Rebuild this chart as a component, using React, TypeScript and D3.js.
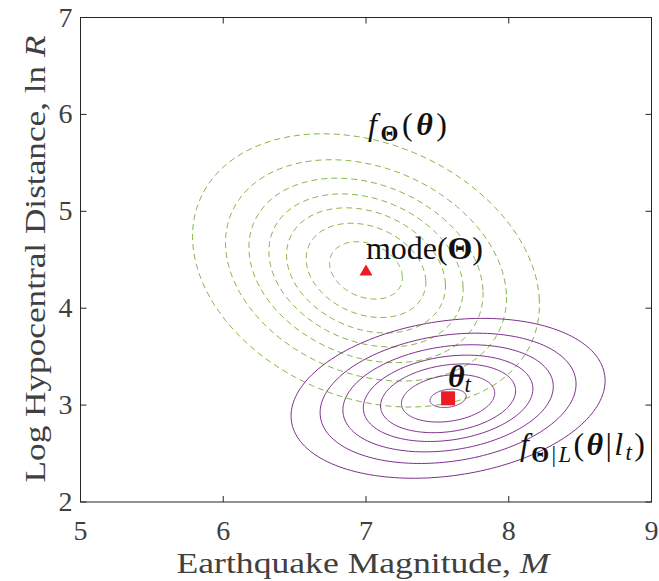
import React from "react";
import * as d3 from "d3";

// ---- data ----
const xDomain = [5, 9];
const yDomain = [2, 7];
const xTicks = [5, 6, 7, 8, 9];
const yTicks = [2, 3, 4, 5, 6, 7];

// prior f_Theta(theta): center, outer-contour extents, correlation, relative contour radii
const priorCenter = [7.0, 4.39];
const priorExtent = [1.215, 1.41];
const priorRho = -0.25;
const priorLevels = [1, 0.81, 0.675, 0.56, 0.458, 0.345, 0.21];

// posterior f_{Theta|L}(theta|l_t)
const postCenter = [7.575, 3.07];
const postExtent = [1.1, 0.825];
const postRho = 0.22;
const postLevels = [1, 0.815, 0.67, 0.54, 0.43, 0.297, 0.115];

const modePoint = [7.0, 4.39];
const truePoint = [7.575, 3.07];

const W = 659, H = 581;
const x = d3.scaleLinear().domain(xDomain).range([80.5, 651.5]);
const y = d3.scaleLinear().domain(yDomain).range([502, 17.5]);

const angles = d3.range(0, 361, 2).map((a) => (a * Math.PI) / 180);

function ellipsePath(c: number[], ext: number[], rho: number, r: number) {
  const s = Math.sqrt(1 - rho * rho);
  const line = d3
    .line<number>()
    .x((t) => x(c[0] + r * ext[0] * Math.cos(t)))
    .y((t) => y(c[1] + r * ext[1] * (rho * Math.cos(t) + s * Math.sin(t))))
    .curve(d3.curveCardinalClosed);
  return line(angles.slice(0, -1)) || "";
}

const FONT = "'Liberation Serif', 'Times New Roman', serif";
const AX = "#262626";
const TICKC = "#404040";
const GREEN = "#77AC30";
const PURPLE = "#7E2F8E";
const RED = "#ED1C24";

export default function App() {
  const x0 = x(xDomain[0]), x1 = x(xDomain[1]);
  const y0 = y(yDomain[0]), y1 = y(yDomain[1]);
  const tl = 6;
  const [mx, my] = [x(modePoint[0]), y(modePoint[1])];
  const [tx, ty] = [x(truePoint[0]), y(truePoint[1])];
  return (
    <svg width={W} height={H} style={{ position: "absolute", left: 0, top: 0, background: "#fff", fontFamily: FONT }}>
      <defs>
        <clipPath id="plotclip">
          <rect x={x0} y={y1} width={x1 - x0} height={y0 - y1} />
        </clipPath>
      </defs>
      <g clipPath="url(#plotclip)">
        {priorLevels.map((r, i) => (
          <path key={"p" + i} d={ellipsePath(priorCenter, priorExtent, priorRho, r)} fill="none"
            stroke={GREEN} strokeWidth={0.9} strokeDasharray="6,4" />
        ))}
        {postLevels.map((r, i) => (
          <path key={"q" + i} d={ellipsePath(postCenter, postExtent, postRho, r)} fill="none"
            stroke={PURPLE} strokeWidth={1} />
        ))}
      </g>
      {/* markers */}
      <path d={`M${mx},${my - 6} L${mx + 6.5},${my + 5} L${mx - 6.5},${my + 5} Z`} fill={RED} />
      <rect x={tx - 7} y={ty - 7} width={14} height={14} fill={RED} />

      {/* axes box */}
      <rect x={x0} y={y1} width={x1 - x0} height={y0 - y1} fill="none" stroke={AX} strokeWidth={1} />
      {xTicks.map((t) => (
        <g key={"xt" + t}>
          <line x1={x(t)} x2={x(t)} y1={y0} y2={y0 - tl} stroke={AX} />
          <line x1={x(t)} x2={x(t)} y1={y1} y2={y1 + tl} stroke={AX} />
          <text x={x(t)} y={y0 + 38} textAnchor="middle" fontSize={28} fill={TICKC}>{t}</text>
        </g>
      ))}
      {yTicks.map((t) => (
        <g key={"yt" + t}>
          <line x1={x0} x2={x0 + tl} y1={y(t)} y2={y(t)} stroke={AX} />
          <line x1={x1} x2={x1 - tl} y1={y(t)} y2={y(t)} stroke={AX} />
          <text x={x0 - 8} y={y(t) + 9} textAnchor="end" fontSize={28} fill={TICKC}>{t}</text>
        </g>
      ))}
      <text x={363} y={573} textAnchor="middle" fontSize={30} fill={TICKC}
        textLength={373} lengthAdjust="spacingAndGlyphs">
        Earthquake Magnitude, <tspan fontStyle="italic">M</tspan>
      </text>
      <text transform={`translate(45,259) rotate(-90)`} textAnchor="middle" fontSize={30} fill={TICKC}
        textLength={447} lengthAdjust="spacingAndGlyphs">
        Log Hypocentral Distance, ln <tspan fontStyle="italic">R</tspan>
      </text>

      {/* annotations */}
      <text x={368} y={135} fontSize={32} fill="#111" textLength={79}>
        <tspan fontStyle="italic">f</tspan>
        <tspan fontWeight="bold" fontSize={23} dy={6}>Θ</tspan>
        <tspan dy={-6}>(</tspan>
        <tspan fontWeight="bold" fontStyle="italic">θ</tspan>
        <tspan>)</tspan>
      </text>
      <text x={366} y={259} fontSize={32} fill="#111" textLength={117}>
        mode(<tspan fontWeight="bold">Θ</tspan>)
      </text>
      <text x={448} y={387} fontSize={32} fill="#111">
        <tspan fontWeight="bold" fontStyle="italic">θ</tspan>
        <tspan fontStyle="italic" fontSize={23} dy={5}>t</tspan>
      </text>
      <text x={520} y={455} fontSize={32} fill="#111" textLength={125}>
        <tspan fontStyle="italic">f</tspan>
        <tspan fontWeight="bold" fontSize={23} dy={7}>Θ</tspan>
        <tspan fontSize={23}>|</tspan>
        <tspan fontStyle="italic" fontSize={23}>L</tspan>
        <tspan dy={-7}>(</tspan>
        <tspan fontWeight="bold" fontStyle="italic">θ</tspan>
        <tspan>|</tspan>
        <tspan fontStyle="italic">l</tspan>
        <tspan fontStyle="italic" fontSize={23} dy={5}>t</tspan>
        <tspan dy={-5}>)</tspan>
      </text>
    </svg>
  );
}
